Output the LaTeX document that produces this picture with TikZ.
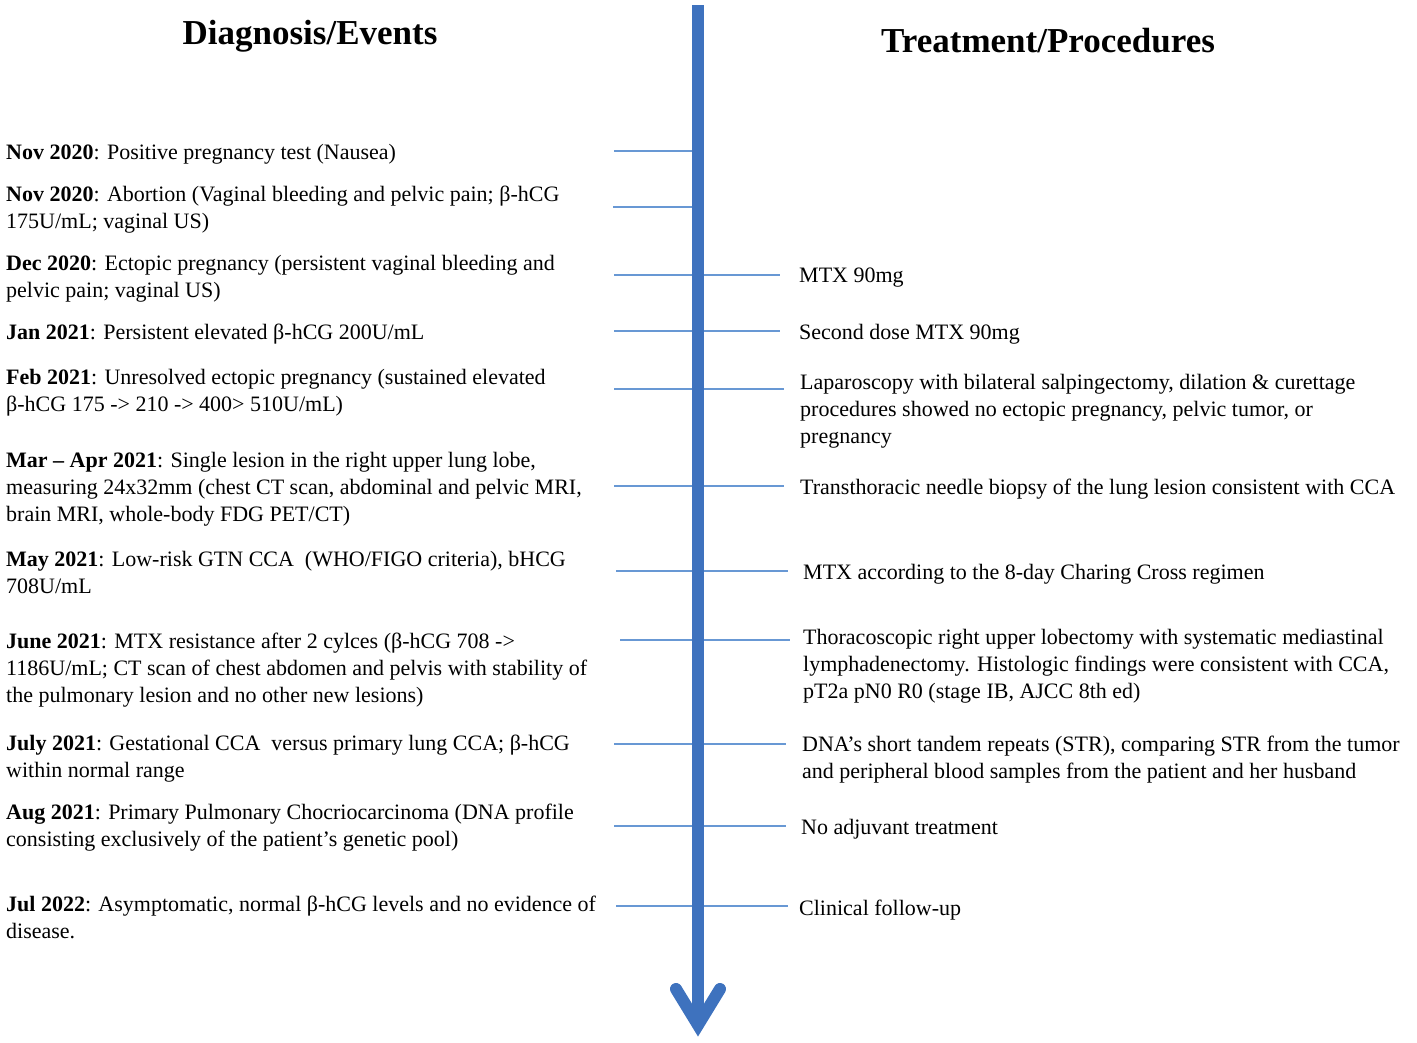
\documentclass[tikz,border=0pt]{standalone}
\usepackage{fontspec}
\setmainfont{Liberation Serif}
\definecolor{shaftblue}{RGB}{62,114,190}
\definecolor{tickblue}{RGB}{104,152,212}
\begin{document}
\begin{tikzpicture}[x=1pt,y=-1pt,
  ev/.style={anchor=north west, inner sep=0pt, align=left, font=\fontsize{22}{27}\selectfont},
  head/.style={inner sep=0pt, font=\fontsize{35}{40}\selectfont\bfseries},
  tick/.style={draw=tickblue, line width=2.4pt},
  shaft/.style={draw=shaftblue, line width=12pt}]
\useasboundingbox (0,0) rectangle (1417,1042);

% headings
\node[head] (h1) at (310,36) {Diagnosis/Events};
\node[head] (h2) at (1048,41) {Treatment/Procedures};

% timeline coordinates
\coordinate (top) at (698,5);
\coordinate (bot) at (698,1025);

% left entries
\node[ev] (L1) at (6,140) {\strut\textbf{Nov 2020}: Positive pregnancy test (Nausea)};
\node[ev] (L2) at (6,182) {\strut\textbf{Nov 2020}: Abortion (Vaginal bleeding and pelvic pain; β-hCG\\175U/mL; vaginal US)};
\node[ev] (L3) at (6,251) {\strut\textbf{Dec 2020}: Ectopic pregnancy (persistent vaginal bleeding and\\pelvic pain; vaginal US)};
\node[ev] (L4) at (6,320) {\strut\textbf{Jan 2021}: Persistent elevated β-hCG 200U/mL};
\node[ev] (L5) at (6,365) {\strut\textbf{Feb 2021}: Unresolved ectopic pregnancy (sustained elevated\\β-hCG 175 -> 210 -> 400> 510U/mL)};
\node[ev] (L6) at (6,448) {\strut\textbf{Mar – Apr 2021}: Single lesion in the right upper lung lobe,\\measuring 24x32mm (chest CT scan, abdominal and pelvic MRI,\\brain MRI, whole-body FDG PET/CT)};
\node[ev] (L7) at (6,547) {\strut\textbf{May 2021}: Low-risk GTN CCA \ (WHO/FIGO criteria), bHCG\\708U/mL};
\node[ev] (L8) at (6,629) {\strut\textbf{June 2021}: MTX resistance after 2 cylces (β-hCG 708 ->\\1186U/mL; CT scan of chest abdomen and pelvis with stability of\\the pulmonary lesion and no other new lesions)};
\node[ev] (L9) at (6,731) {\strut\textbf{July 2021}: Gestational CCA \ versus primary lung CCA; β-hCG\\within normal range};
\node[ev] (L10) at (6,800) {\strut\textbf{Aug 2021}: Primary Pulmonary Chocriocarcinoma (DNA profile\\consisting exclusively of the patient’s genetic pool)};
\node[ev] (L11) at (6,892) {\strut\textbf{Jul 2022}: Asymptomatic, normal β-hCG levels and no evidence of\\disease.};

% right entries
\node[ev] (R3) at (799,263) {\strut MTX 90mg};
\node[ev] (R4) at (799,320) {\strut Second dose MTX 90mg};
\node[ev] (R5) at (800,370) {\strut Laparoscopy with bilateral salpingectomy, dilation \& curettage\\procedures showed no ectopic pregnancy, pelvic tumor, or\\pregnancy};
\node[ev] (R6) at (800,475) {\strut Transthoracic needle biopsy of the lung lesion consistent with CCA};
\node[ev] (R7) at (803,560) {\strut MTX according to the 8-day Charing Cross regimen};
\node[ev] (R8) at (803,625) {\strut Thoracoscopic right upper lobectomy with systematic mediastinal\\lymphadenectomy. Histologic findings were consistent with CCA,\\pT2a pN0 R0 (stage IB, AJCC 8th ed)};
\node[ev] (R9) at (802,732) {\strut DNA’s short tandem repeats (STR), comparing STR from the tumor\\and peripheral blood samples from the patient and her husband};
\node[ev] (R10) at (801,815) {\strut No adjuvant treatment};
\node[ev] (R11) at (799,896) {\strut Clinical follow-up};

% tick ends
\coordinate (a1) at (614,151);
\coordinate (a2) at (613,207);
\coordinate (a3) at (614,275);
\coordinate (a4) at (614,331);
\coordinate (a5) at (614,389);
\coordinate (a6) at (614,486);
\coordinate (a7) at (616,571);
\coordinate (a8) at (620,640);
\coordinate (a9) at (614,744);
\coordinate (a10) at (614,826);
\coordinate (a11) at (616,906);
\coordinate (b3) at (780,275);
\coordinate (b4) at (780,331);
\coordinate (b5) at (784,389);
\coordinate (b6) at (784,486);
\coordinate (b7) at (788,571);
\coordinate (b8) at (790,640);
\coordinate (b9) at (786,744);
\coordinate (b10) at (786,826);
\coordinate (b11) at (788,906);

\foreach \i in {1,...,11} {\draw[tick] (a\i) -- (a\i -| top);}
\foreach \i in {3,...,11} {\draw[tick] (top |- b\i) -- (b\i);}

% main arrow
\draw[shaft] (top) -- (bot);
\coordinate (wl) at (676,989);
\coordinate (wr) at (720,989);
\draw[shaft, line cap=round, line join=miter] (wl) -- (bot) -- (wr);
\end{tikzpicture}
\end{document}
